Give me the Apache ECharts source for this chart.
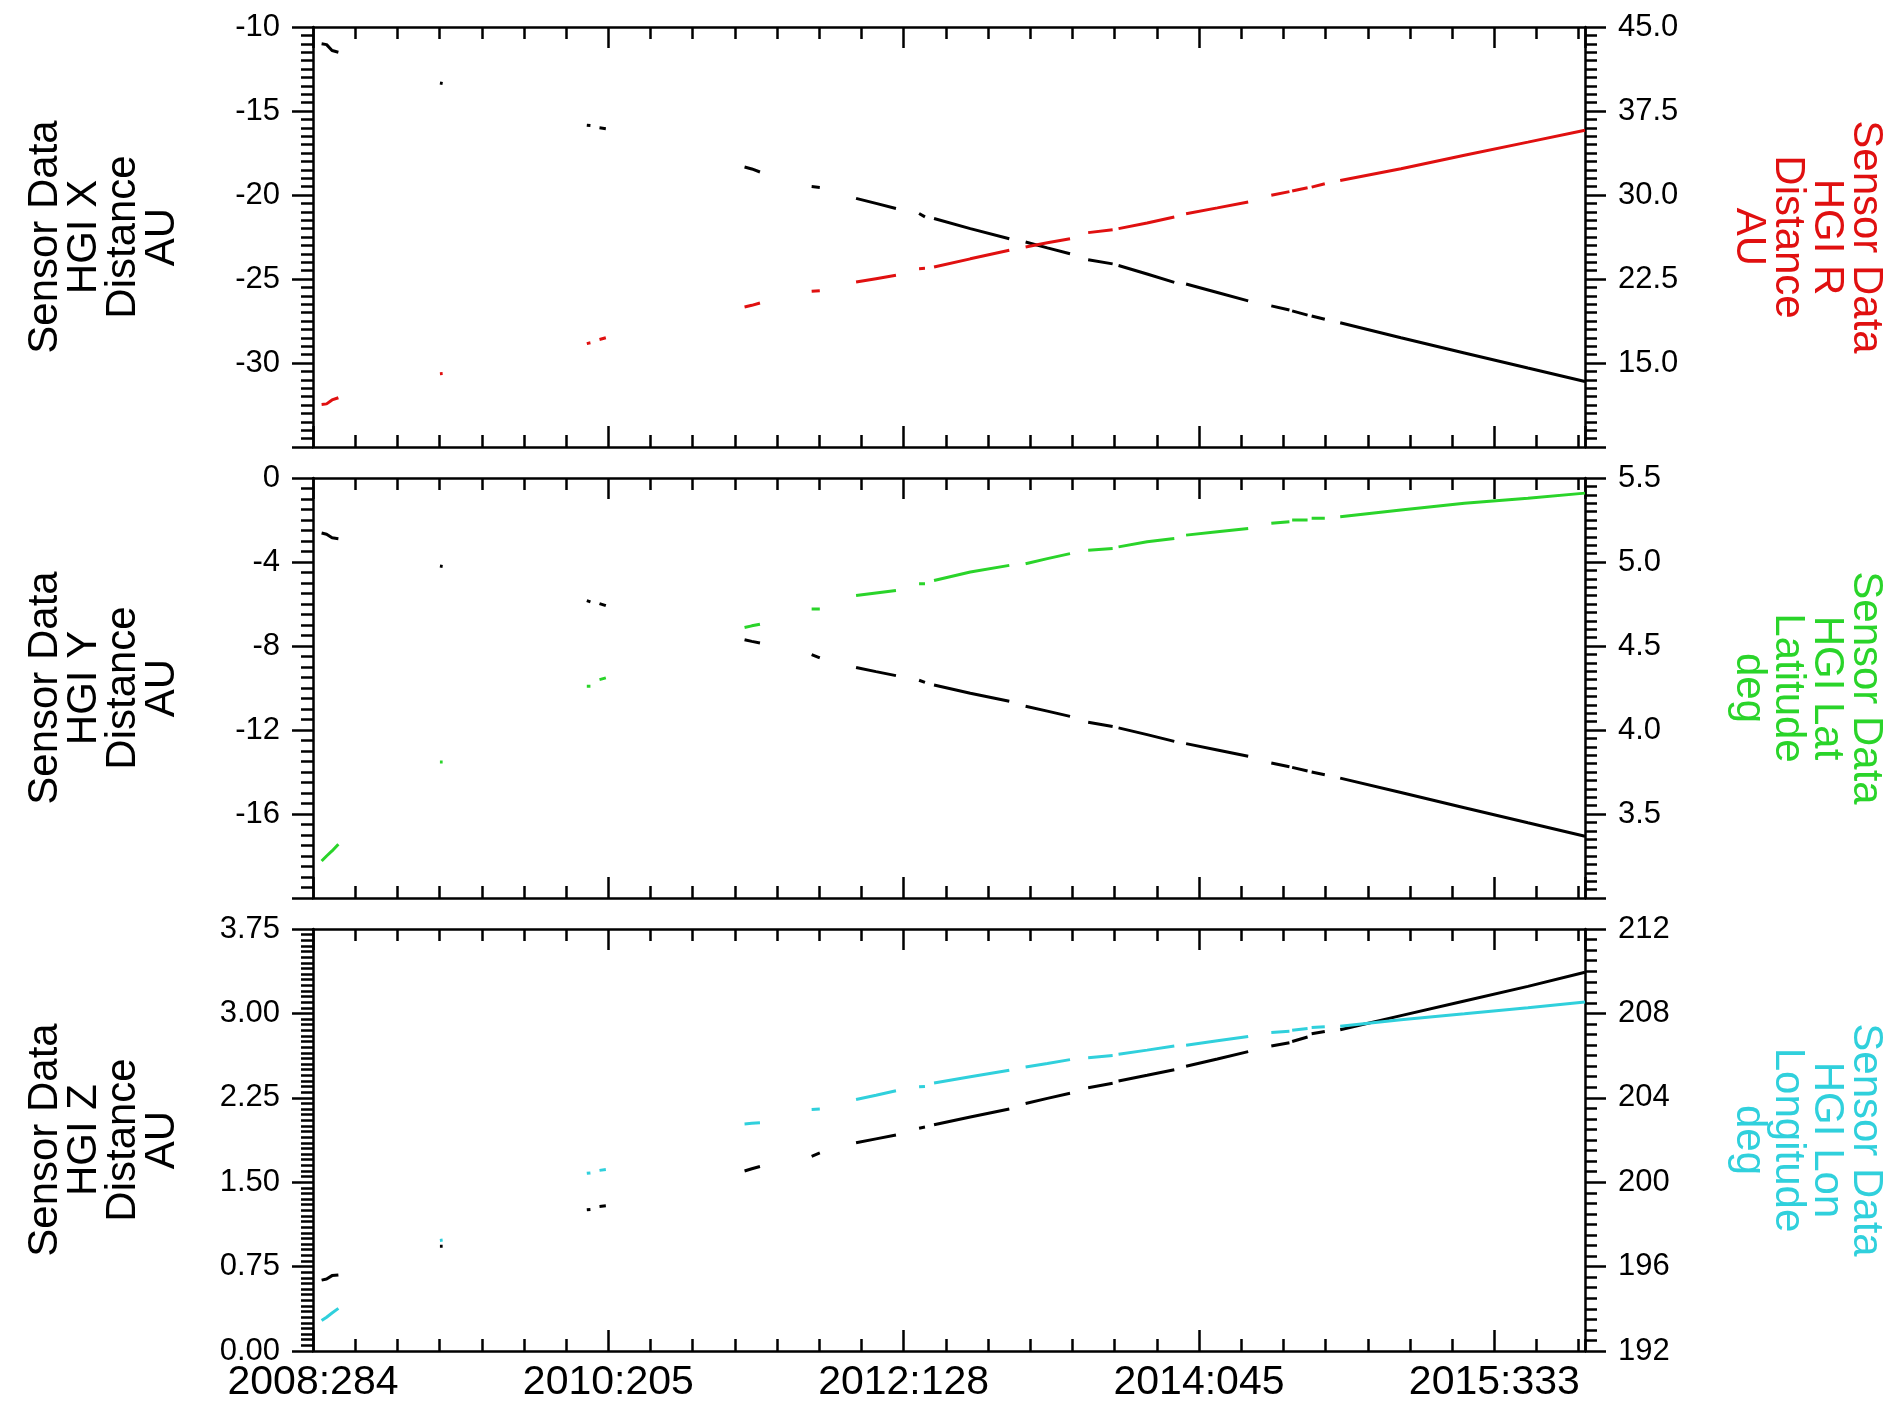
<!DOCTYPE html>
<html>
<head>
<meta charset="utf-8">
<script src="https://cdn.jsdelivr.net/npm/echarts@6/dist/echarts.min.js"></script>
<style>
html,body{margin:0;padding:0;background:#fff;}
#chart{width:1899px;height:1411px;}
</style>
</head>
<body>
<div id="chart"></div>
<script>
// ---- data (x = days since 2008:284; null marks a data gap) ----
const dateLabels = ['2008:284', '2010:205', '2012:128', '2014:045', '2015:333'];

const days = [19, 30, 42, 56, null,
  280, 286, null,
  604, 612, null,
  632, 646, null,
  952, 968, 986, null,
  1100, 1118, null,
  1198, 1242, 1286, null,
  1337, 1350, null,
  1370, 1450, 1536, null,
  1572, 1620, 1670, null,
  1710, 1764, null,
  1777, 1840, 1900, null,
  1926, 1995, 2063, null,
  2114, 2154, null,
  2160, 2194, null,
  2203, 2232, null,
  2266, 2400, 2540, 2680, 2806];

const hgiX = [-11.0, -11.05, -11.4, -11.5, null,
  -13.33, -13.36, null,
  -15.85, -15.87, null,
  -16.0, -16.05, null,
  -18.33, -18.45, -18.63, null,
  -19.5, -19.55, null,
  -20.2, -20.5, -20.8, null,
  -21.1, -21.3, null,
  -21.4, -22.0, -22.6, null,
  -22.8, -23.15, -23.5, null,
  -23.85, -24.1, null,
  -24.2, -24.7, -25.2, null,
  -25.3, -25.8, -26.3, null,
  -26.6, -26.85, null,
  -26.9, -27.15, null,
  -27.2, -27.4, null,
  -27.6, -28.5, -29.4, -30.3, -31.1];

const hgiR = [11.3, 11.35, 11.7, 11.9, null,
  14.05, 14.07, null,
  16.73, 16.8, null,
  17.1, 17.25, null,
  20.0, 20.15, 20.36, null,
  21.4, 21.45, null,
  22.23, 22.53, 22.83, null,
  23.42, 23.45, null,
  23.57, 24.3, 25.06, null,
  25.36, 25.73, 26.1, null,
  26.64, 26.9, null,
  27.0, 27.5, 28.04, null,
  28.33, 28.85, 29.37, null,
  29.97, 30.3, null,
  30.35, 30.65, null,
  30.7, 31.0, null,
  31.3, 32.35, 33.55, 34.72, 35.78];

const hgiY = [-2.62, -2.68, -2.85, -2.89, null,
  -4.19, -4.21, null,
  -5.84, -5.9, null,
  -5.98, -6.08, null,
  -7.70, -7.78, -7.86, null,
  -8.41, -8.57, null,
  -9.02, -9.22, -9.41, null,
  -9.63, -9.73, null,
  -9.86, -10.25, -10.63, null,
  -10.87, -11.1, -11.35, null,
  -11.63, -11.83, null,
  -11.90, -12.22, -12.54, null,
  -12.65, -12.95, -13.25, null,
  -13.57, -13.75, null,
  -13.78, -13.95, null,
  -14.0, -14.13, null,
  -14.29, -14.98, -15.7, -16.42, -17.06];

const hgiLat = [3.22, 3.25, 3.28, 3.32, null,
  3.81, 3.81, null,
  4.26, 4.26, null,
  4.30, 4.31, null,
  4.61, 4.62, 4.63, null,
  4.72, 4.72, null,
  4.80, 4.815, 4.83, null,
  4.87, 4.87, null,
  4.89, 4.94, 4.98, null,
  4.99, 5.02, 5.05, null,
  5.07, 5.08, null,
  5.09, 5.12, 5.14, null,
  5.16, 5.18, 5.20, null,
  5.23, 5.24, null,
  5.25, 5.25, null,
  5.26, 5.26, null,
  5.27, 5.31, 5.35, 5.38, 5.41];

const hgiZ = [0.63, 0.64, 0.67, 0.676, null,
  0.93, 0.93, null,
  1.255, 1.258, null,
  1.284, 1.29, null,
  1.60, 1.62, 1.64, null,
  1.73, 1.76, null,
  1.85, 1.885, 1.92, null,
  1.98, 1.99, null,
  2.01, 2.08, 2.15, null,
  2.20, 2.245, 2.29, null,
  2.34, 2.38, null,
  2.40, 2.45, 2.50, null,
  2.53, 2.595, 2.66, null,
  2.71, 2.74, null,
  2.75, 2.79, null,
  2.82, 2.84, null,
  2.855, 2.98, 3.11, 3.24, 3.366];

const hgiLon = [193.44, 193.6, 193.8, 194.02, null,
  197.24, 197.26, null,
  200.42, 200.44, null,
  200.56, 200.6, null,
  202.76, 202.79, 202.82, null,
  203.45, 203.47, null,
  203.92, 204.12, 204.33, null,
  204.52, 204.54, null,
  204.7, 205.0, 205.31, null,
  205.46, 205.63, 205.81, null,
  205.9, 206.0, null,
  206.06, 206.26, 206.46, null,
  206.49, 206.7, 206.91, null,
  207.09, 207.15, null,
  207.2, 207.28, null,
  207.33, 207.37, null,
  207.39, 207.7, 207.98, 208.27, 208.54];

// ---- chart ----
const FONT = "'Liberation Sans', Arial, Helvetica, sans-serif";
const RED = '#e01010', GREEN = '#2ad42a', CYAN = '#30d0dc', BLACK = '#000000';
const X_MAX = 2806, X_MAJOR = 651.5, X_MINOR = X_MAJOR / 7;
const LW = 2.5, DATA_LW = 3;

const panels = [
  { top: 27, height: 420,
    left:  { min: -35, max: -10, interval: 5, minor: 10, dec: 0, hideMin: true, name: 'Sensor Data\nHGI X\nDistance\nAU', color: BLACK },
    right: { min: 7.5, max: 45, interval: 7.5, minor: 10, dec: 1, hideMin: true, name: 'Sensor Data\nHGI R\nDistance\nAU', color: RED },
    series: [[hgiX, 0, BLACK], [hgiR, 1, RED]] },
  { top: 478, height: 420,
    left:  { min: -20, max: 0, interval: 4, minor: 8, dec: 0, hideMin: true, name: 'Sensor Data\nHGI Y\nDistance\nAU', color: BLACK },
    right: { min: 3.0, max: 5.5, interval: 0.5, minor: 10, dec: 1, hideMin: true, name: 'Sensor Data\nHGI Lat\nLatitude\ndeg', color: GREEN },
    series: [[hgiY, 0, BLACK], [hgiLat, 1, GREEN]] },
  { top: 929, height: 422,
    left:  { min: 0, max: 3.75, interval: 0.75, minor: 15, dec: 2, hideMin: false, name: 'Sensor Data\nHGI Z\nDistance\nAU', color: BLACK },
    right: { min: 192, max: 212, interval: 4, minor: 8, dec: 0, hideMin: false, name: 'Sensor Data\nHGI Lon\nLongitude\ndeg', color: CYAN },
    series: [[hgiZ, 0, BLACK], [hgiLon, 1, CYAN]] }
];

const lineStyle = { color: '#000', width: LW };
const grid = [], xAxis = [], yAxis = [], series = [];

panels.forEach((p, gi) => {
  grid.push({ left: 313, right: 314, top: p.top, height: p.height, containLabel: false });
  const base = { type: 'value', gridIndex: gi, min: 0, max: X_MAX, splitLine: { show: false } };
  const isLast = gi === panels.length - 1;
  xAxis.push(Object.assign({}, base, {
    position: 'bottom', interval: X_MAJOR,
    axisLine: { show: true, onZero: false, lineStyle },
    axisTick: { show: true, inside: true, length: 21, lineStyle },
    axisLabel: { show: isLast, showMaxLabel: false, margin: 11, color: '#000', fontSize: 41, fontFamily: FONT,
      formatter: v => { const k = Math.round(v / X_MAJOR); return Math.abs(v - k * X_MAJOR) < 1 ? (dateLabels[k] || '') : ''; } }
  }));
  xAxis.push(Object.assign({}, base, {
    position: 'bottom', interval: X_MINOR,
    axisLine: { show: false, onZero: false },
    axisTick: { show: true, inside: true, length: 12, lineStyle },
    axisLabel: { show: false }
  }));
  xAxis.push(Object.assign({}, base, {
    position: 'top', interval: X_MAJOR,
    axisLine: { show: true, onZero: false, lineStyle },
    axisTick: { show: true, inside: true, length: 21, lineStyle },
    axisLabel: { show: false }
  }));
  xAxis.push(Object.assign({}, base, {
    position: 'top', interval: X_MINOR,
    axisLine: { show: false, onZero: false },
    axisTick: { show: true, inside: true, length: 12, lineStyle },
    axisLabel: { show: false }
  }));

  [['left', p.left, 90, 131], ['right', p.right, -90, 144]].forEach(([pos, a, rot, gap]) => {
    yAxis.push({
      type: 'value', gridIndex: gi, position: pos,
      min: a.min, max: a.max, interval: a.interval,
      axisLine: { show: true, onZero: false, lineStyle },
      axisTick: { show: true, inside: false, length: 21, lineStyle },
      minorTick: { show: true, splitNumber: a.minor, length: 12, lineStyle },
      splitLine: { show: false }, minorSplitLine: { show: false },
      axisLabel: { show: true, margin: 33, color: '#000', fontSize: 31, fontFamily: FONT,
        showMinLabel: !a.hideMin, showMaxLabel: true,
        formatter: v => v.toFixed(a.dec) },
      name: a.name, nameLocation: 'middle', nameRotate: rot, nameGap: gap,
      nameTextStyle: { color: a.color, fontSize: 42, lineHeight: 39, fontFamily: FONT, align: 'center' }
    });
  });

  p.series.forEach(([vals, yi, color]) => {
    series.push({
      type: 'line', xAxisIndex: gi * 4, yAxisIndex: gi * 2 + yi,
      data: days.map((d, i) => (d === null || vals[i] === null) ? [null, null] : [d, vals[i]]),
      showSymbol: false, symbol: 'none', connectNulls: false, animation: false,
      lineStyle: { color, width: DATA_LW }, itemStyle: { color }
    });
  });
});

const chart = echarts.init(document.getElementById('chart'), null, { renderer: 'canvas' });
chart.setOption({
  backgroundColor: '#ffffff',
  animation: false,
  textStyle: { fontFamily: FONT },
  grid, xAxis, yAxis, series
});
</script>
</body>
</html>
